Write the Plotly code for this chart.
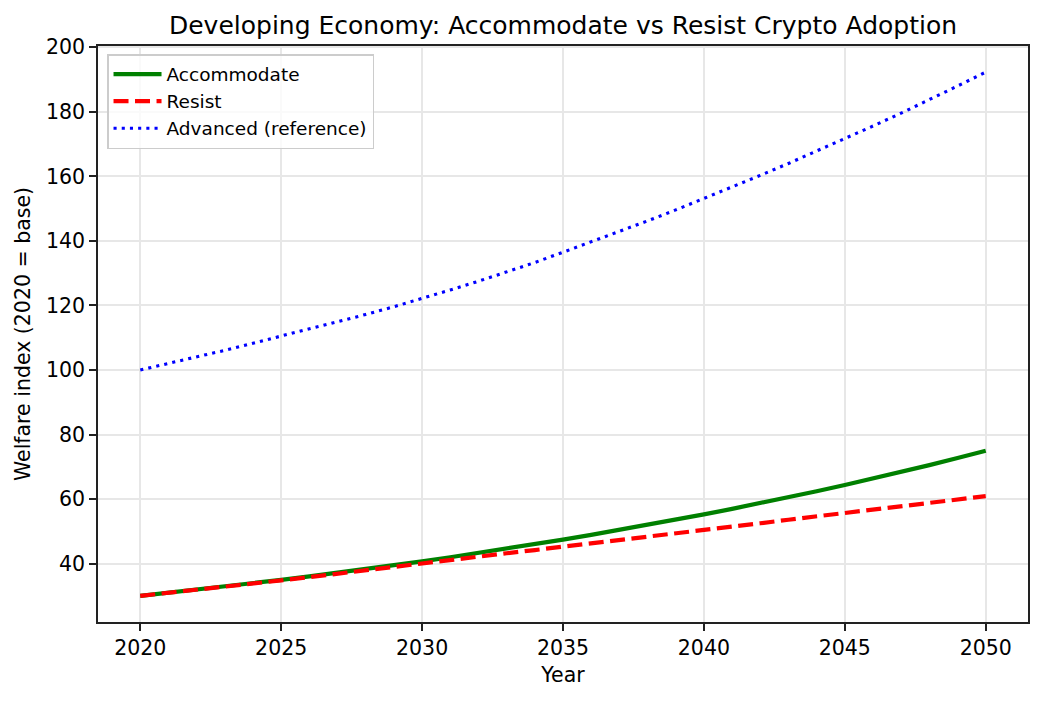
import plotly.graph_objects as go

years = list(range(2020, 2051))

accommodate = [30.00, 30.93, 31.89, 32.88, 33.90, 34.95, 36.03, 37.15, 38.30, 39.49,
               40.71, 41.97, 43.27, 44.61, 45.99, 47.42, 48.89, 50.41, 51.97, 53.58,
               55.24, 56.96, 58.72, 60.54, 62.42, 64.35, 66.35, 68.40, 70.52, 72.71,
               74.96]

resist = [30.0, 30.9, 31.9, 32.8, 33.8, 34.8, 35.8, 36.9, 37.9, 39.0,
          40.0, 41.1, 42.1, 43.2, 44.2, 45.2, 46.3, 47.3, 48.4, 49.4,
          50.5, 51.5, 52.5, 53.6, 54.6, 55.6, 56.6, 57.7, 58.7, 59.8,
          60.9]

advanced = [100.0, 102.0, 104.0, 106.1, 108.3, 110.5, 112.7, 114.9, 117.2, 119.6,
            122.1, 124.8, 127.5, 130.3, 133.3, 136.5, 139.7, 142.9, 146.2, 149.6,
            153.1, 156.7, 160.3, 164.0, 167.8, 171.6, 175.6, 179.6, 183.7, 188.0,
            192.3]

x_ticks = [2020, 2025, 2030, 2035, 2040, 2045, 2050]
y_ticks = [40, 60, 80, 100, 120, 140, 160, 180, 200]

fig = go.Figure()

fig.add_trace(go.Scatter(x=years, y=accommodate, mode="lines", name="Accommodate",
                         line=dict(color="green", width=4.2)))
fig.add_trace(go.Scatter(x=years, y=resist, mode="lines", name="Resist",
                         line=dict(color="red", width=4.2, dash="15px,6.5px")))
fig.add_trace(go.Scatter(x=years, y=advanced, mode="lines", name="Advanced (reference)",
                         line=dict(color="blue", width=3.1, dash="3.1px,5.1px")))

axis_style = dict(
    showgrid=True, gridcolor="#e7e7e7", gridwidth=1.6,
    zeroline=False, showline=True, linecolor="#222222", linewidth=1.6, mirror=True,
    ticks="outside", ticklen=7, tickwidth=1.6, tickcolor="#222222",
    tickfont=dict(size=20.5, color="black"), title_font=dict(size=20.5, color="black"),
)

fig.update_xaxes(axis_style, title_text="Year", range=[2018.5, 2051.5],
                 tickvals=x_ticks, title_standoff=8)
fig.update_yaxes(axis_style, title_text="Welfare index (2020 = base)", range=[21.9, 200.4],
                 tickvals=y_ticks, title_standoff=10)

# the page has an 8px body margin, so the figure is made a bit smaller
fig.update_layout(
    width=1034, height=693,
    margin=dict(l=90, r=14, t=38, b=79),
    paper_bgcolor="white", plot_bgcolor="white",
    font=dict(family="DejaVu Sans", color="black"),
    title=dict(text="Developing Economy: Accommodate vs Resist Crypto Adoption",
               x=0.5368, xanchor="center", y=0.9747, yanchor="middle",
               font=dict(size=25, color="black")),
    legend=dict(x=0.0097, y=0.986, xanchor="left", yanchor="top",
                bgcolor="rgba(255,255,255,0.8)", bordercolor="#cccccc", borderwidth=1.5,
                font=dict(size=18.5, color="black"), tracegroupgap=2, itemwidth=48),
    showlegend=True,
)

fig.write_html("out.html")
